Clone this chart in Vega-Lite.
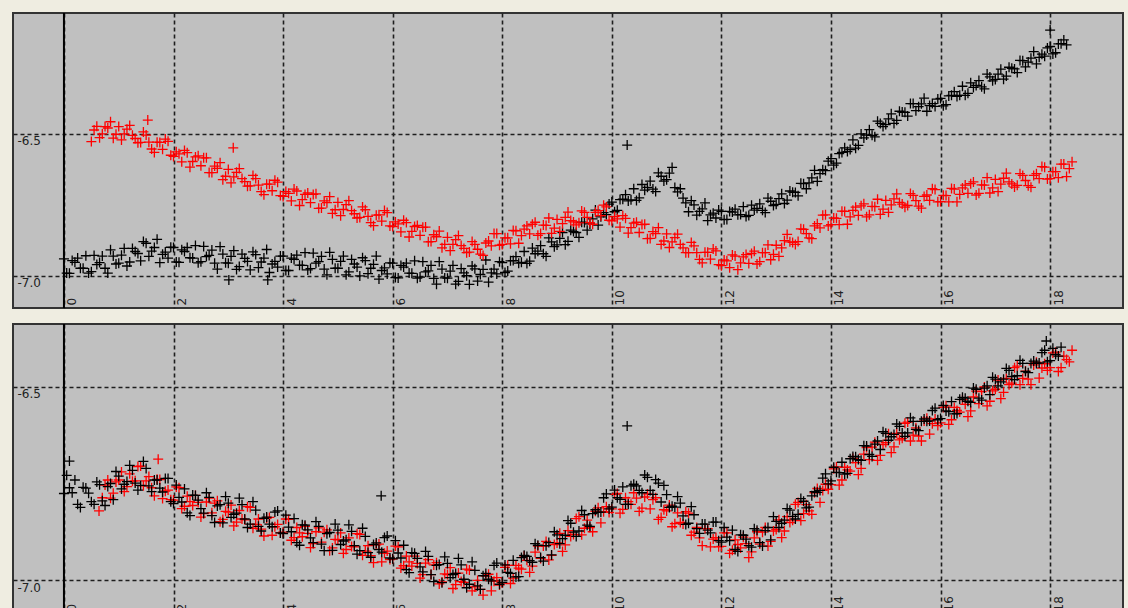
{
"$schema": "https://vega.github.io/schema/vega-lite/v6.json",
"background": "#EFEDE1",
"padding": {"left": 12, "top": 11, "right": 6, "bottom": 0},
"spacing": 12,
"config": {
 "view": {"fill": "#C0C0C0", "stroke": "#333333", "strokeWidth": 2},
 "axis": {"grid": true, "gridDash": [4, 3], "gridColor": "#1e1e1e", "gridWidth": 1.6, "gridOpacity": 1, "domain": false, "ticks": false, "tickSize": 0, "title": null, "labelFont": "DejaVu Sans", "labelFontSize": 12, "labelColor": "#222222", "labelFlush": false, "labelOverlap": false}
},
"datasets": {
 "topBlack": [
{"x":0.0,"y":-6.940},{"x":0.1,"y":-6.991},{"x":0.2,"y":-6.952},{"x":0.3,"y":-6.973},{"x":0.4,"y":-6.929},{"x":0.5,"y":-6.985},{"x":0.6,"y":-6.960},{"x":0.7,"y":-6.930},{"x":0.8,"y":-6.990},{"x":0.9,"y":-6.930},
{"x":1.0,"y":-6.955},{"x":1.1,"y":-6.903},{"x":1.2,"y":-6.951},{"x":1.3,"y":-6.914},{"x":1.4,"y":-6.947},{"x":1.5,"y":-6.885},{"x":1.6,"y":-6.913},{"x":1.7,"y":-6.871},{"x":1.8,"y":-6.924},{"x":1.9,"y":-6.937},
{"x":2.0,"y":-6.900},{"x":2.1,"y":-6.952},{"x":2.2,"y":-6.914},{"x":2.3,"y":-6.936},{"x":2.4,"y":-6.893},{"x":2.5,"y":-6.950},{"x":2.6,"y":-6.932},{"x":2.7,"y":-6.909},{"x":2.8,"y":-6.976},{"x":2.9,"y":-6.923},
{"x":3.0,"y":-6.955},{"x":3.1,"y":-6.911},{"x":3.2,"y":-6.967},{"x":3.3,"y":-6.938},{"x":3.4,"y":-6.979},{"x":3.5,"y":-6.925},{"x":3.6,"y":-6.951},{"x":3.7,"y":-6.907},{"x":3.8,"y":-6.958},{"x":3.9,"y":-6.969},
{"x":4.0,"y":-6.930},{"x":4.1,"y":-6.981},{"x":4.2,"y":-6.942},{"x":4.3,"y":-6.962},{"x":4.4,"y":-6.918},{"x":4.5,"y":-6.974},{"x":4.6,"y":-6.955},{"x":4.7,"y":-6.931},{"x":4.8,"y":-6.996},{"x":4.9,"y":-6.942},
{"x":5.0,"y":-6.973},{"x":5.1,"y":-6.930},{"x":5.2,"y":-6.986},{"x":5.3,"y":-6.958},{"x":5.4,"y":-7.000},{"x":5.5,"y":-6.946},{"x":5.6,"y":-6.973},{"x":5.7,"y":-6.930},{"x":5.8,"y":-6.981},{"x":5.9,"y":-6.993},
{"x":6.0,"y":-6.955},{"x":6.1,"y":-7.007},{"x":6.2,"y":-6.969},{"x":6.3,"y":-6.990},{"x":6.4,"y":-6.947},{"x":6.5,"y":-7.004},{"x":6.6,"y":-6.986},{"x":6.7,"y":-6.963},{"x":6.8,"y":-7.029},{"x":6.9,"y":-6.976},
{"x":7.0,"y":-7.008},{"x":7.1,"y":-6.963},{"x":7.2,"y":-7.019},{"x":7.3,"y":-6.989},{"x":7.4,"y":-7.030},{"x":7.5,"y":-6.975},{"x":7.6,"y":-6.995},{"x":7.7,"y":-6.944},{"x":7.8,"y":-6.989},{"x":7.9,"y":-6.993},
{"x":8.0,"y":-6.953},{"x":8.1,"y":-6.983},{"x":8.2,"y":-6.946},{"x":8.3,"y":-6.955},{"x":8.4,"y":-6.914},{"x":8.5,"y":-6.948},{"x":8.6,"y":-6.922},{"x":8.7,"y":-6.893},{"x":8.8,"y":-6.931},{"x":8.9,"y":-6.880},
{"x":9.0,"y":-6.891},{"x":9.1,"y":-6.847},{"x":9.2,"y":-6.878},{"x":9.3,"y":-6.844},{"x":9.4,"y":-6.864},{"x":9.5,"y":-6.812},{"x":9.6,"y":-6.817},{"x":9.7,"y":-6.768},{"x":9.8,"y":-6.792},{"x":9.9,"y":-6.784},
{"x":10.0,"y":-6.740},{"x":10.1,"y":-6.769},{"x":10.2,"y":-6.730},{"x":10.3,"y":-6.736},{"x":10.4,"y":-6.693},{"x":10.5,"y":-6.725},{"x":10.6,"y":-6.698},{"x":10.7,"y":-6.666},{"x":10.8,"y":-6.703},{"x":10.9,"y":-6.649},
{"x":11.0,"y":-6.661},{"x":11.1,"y":-6.618},{"x":11.2,"y":-6.704},{"x":11.3,"y":-6.726},{"x":11.4,"y":-6.774},{"x":11.5,"y":-6.750},{"x":11.6,"y":-6.773},{"x":11.7,"y":-6.743},{"x":11.8,"y":-6.785},{"x":11.9,"y":-6.796},
{"x":12.0,"y":-6.773},{"x":12.1,"y":-6.801},{"x":12.2,"y":-6.775},{"x":12.3,"y":-6.785},{"x":12.4,"y":-6.756},{"x":12.5,"y":-6.787},{"x":12.6,"y":-6.768},{"x":12.7,"y":-6.746},{"x":12.8,"y":-6.777},{"x":12.9,"y":-6.737},
{"x":13.0,"y":-6.748},{"x":13.1,"y":-6.711},{"x":13.2,"y":-6.733},{"x":13.3,"y":-6.705},{"x":13.4,"y":-6.718},{"x":13.5,"y":-6.675},{"x":13.6,"y":-6.672},{"x":13.7,"y":-6.628},{"x":13.8,"y":-6.640},{"x":13.9,"y":-6.629},
{"x":14.0,"y":-6.587},{"x":14.1,"y":-6.603},{"x":14.2,"y":-6.565},{"x":14.3,"y":-6.562},{"x":14.4,"y":-6.521},{"x":14.5,"y":-6.540},{"x":14.6,"y":-6.514},{"x":14.7,"y":-6.485},{"x":14.8,"y":-6.510},{"x":14.9,"y":-6.463},
{"x":15.0,"y":-6.467},{"x":15.1,"y":-6.429},{"x":15.2,"y":-6.452},{"x":15.3,"y":-6.423},{"x":15.4,"y":-6.437},{"x":15.5,"y":-6.393},{"x":15.6,"y":-6.404},{"x":15.7,"y":-6.374},{"x":15.8,"y":-6.400},{"x":15.9,"y":-6.403},
{"x":16.0,"y":-6.375},{"x":16.1,"y":-6.397},{"x":16.2,"y":-6.364},{"x":16.3,"y":-6.368},{"x":16.4,"y":-6.332},{"x":16.5,"y":-6.357},{"x":16.6,"y":-6.336},{"x":16.7,"y":-6.312},{"x":16.8,"y":-6.341},{"x":16.9,"y":-6.299},
{"x":17.0,"y":-6.308},{"x":17.1,"y":-6.272},{"x":17.2,"y":-6.296},{"x":17.3,"y":-6.269},{"x":17.4,"y":-6.284},{"x":17.5,"y":-6.242},{"x":17.6,"y":-6.247},{"x":17.7,"y":-6.210},{"x":17.8,"y":-6.230},{"x":17.9,"y":-6.226},
{"x":18.0,"y":-6.192},{"x":18.1,"y":-6.214},{"x":18.2,"y":-6.182},{"x":18.3,"y":-6.186},
{"x":18.0,"y":-6.134},{"x":10.28,"y":-6.539},{"x":3.01,"y":-7.014},{"x":3.72,"y":-7.014},
{"x":0.05,"y":-6.990},{"x":0.15,"y":-6.946},{"x":0.25,"y":-6.937},{"x":0.35,"y":-6.973},{"x":0.45,"y":-6.990},{"x":0.55,"y":-6.928},{"x":0.65,"y":-6.953},{"x":0.75,"y":-6.973},{"x":0.85,"y":-6.908},{"x":0.95,"y":-6.958},
{"x":1.05,"y":-6.927},{"x":1.15,"y":-6.965},{"x":1.25,"y":-6.903},{"x":1.35,"y":-6.921},{"x":1.45,"y":-6.879},{"x":1.55,"y":-6.931},{"x":1.65,"y":-6.900},{"x":1.75,"y":-6.953},{"x":1.85,"y":-6.916},{"x":1.95,"y":-6.899},
{"x":2.05,"y":-6.951},{"x":2.15,"y":-6.908},{"x":2.25,"y":-6.900},{"x":2.35,"y":-6.937},{"x":2.45,"y":-6.954},{"x":2.55,"y":-6.896},{"x":2.65,"y":-6.928},{"x":2.75,"y":-6.955},{"x":2.85,"y":-6.897},{"x":2.95,"y":-6.954},
{"x":3.05,"y":-6.931},{"x":3.15,"y":-6.977},{"x":3.25,"y":-6.923},{"x":3.35,"y":-6.949},{"x":3.45,"y":-6.915},{"x":3.55,"y":-6.971},{"x":3.65,"y":-6.937},{"x":3.75,"y":-6.988},{"x":3.85,"y":-6.949},{"x":3.95,"y":-6.930},
{"x":4.05,"y":-6.981},{"x":4.15,"y":-6.937},{"x":4.25,"y":-6.927},{"x":4.35,"y":-6.963},{"x":4.45,"y":-6.979},{"x":4.55,"y":-6.920},{"x":4.65,"y":-6.950},{"x":4.75,"y":-6.976},{"x":4.85,"y":-6.917},{"x":4.95,"y":-6.973},
{"x":5.05,"y":-6.949},{"x":5.15,"y":-6.996},{"x":5.25,"y":-6.942},{"x":5.35,"y":-6.969},{"x":5.45,"y":-6.936},{"x":5.55,"y":-6.992},{"x":5.65,"y":-6.959},{"x":5.75,"y":-7.011},{"x":5.85,"y":-6.972},{"x":5.95,"y":-6.954},
{"x":6.05,"y":-7.006},{"x":6.15,"y":-6.963},{"x":6.25,"y":-6.955},{"x":6.35,"y":-6.991},{"x":6.45,"y":-7.008},{"x":6.55,"y":-6.950},{"x":6.65,"y":-6.982},{"x":6.75,"y":-7.009},{"x":6.85,"y":-6.950},{"x":6.95,"y":-7.007},
{"x":7.05,"y":-6.983},{"x":7.15,"y":-7.029},{"x":7.25,"y":-6.974},{"x":7.35,"y":-6.999},{"x":7.45,"y":-6.965},{"x":7.55,"y":-7.018},{"x":7.65,"y":-6.977},{"x":7.75,"y":-7.022},{"x":7.85,"y":-6.976},{"x":7.95,"y":-6.950},
{"x":8.05,"y":-6.988},{"x":8.15,"y":-6.947},{"x":8.25,"y":-6.932},{"x":8.35,"y":-6.952},{"x":8.45,"y":-6.956},{"x":8.55,"y":-6.902},{"x":8.65,"y":-6.913},{"x":8.75,"y":-6.922},{"x":8.85,"y":-6.866},{"x":8.95,"y":-6.897},
{"x":9.05,"y":-6.868},{"x":9.15,"y":-6.890},{"x":9.25,"y":-6.839},{"x":9.35,"y":-6.847},{"x":9.45,"y":-6.811},{"x":9.55,"y":-6.839},{"x":9.65,"y":-6.799},{"x":9.75,"y":-6.821},{"x":9.85,"y":-6.777},{"x":9.95,"y":-6.747},
{"x":10.05,"y":-6.774},{"x":10.15,"y":-6.731},{"x":10.25,"y":-6.714},{"x":10.35,"y":-6.732},{"x":10.45,"y":-6.734},{"x":10.55,"y":-6.678},{"x":10.65,"y":-6.688},{"x":10.75,"y":-6.694},{"x":10.85,"y":-6.637},{"x":10.95,"y":-6.666},
{"x":11.05,"y":-6.638},{"x":11.15,"y":-6.689},{"x":11.25,"y":-6.693},{"x":11.35,"y":-6.743},{"x":11.45,"y":-6.735},{"x":11.55,"y":-6.786},{"x":11.65,"y":-6.764},{"x":11.75,"y":-6.805},{"x":11.85,"y":-6.779},{"x":11.95,"y":-6.768},
{"x":12.05,"y":-6.802},{"x":12.15,"y":-6.773},{"x":12.25,"y":-6.765},{"x":12.35,"y":-6.784},{"x":12.45,"y":-6.791},{"x":12.55,"y":-6.751},{"x":12.65,"y":-6.762},{"x":12.75,"y":-6.769},{"x":12.85,"y":-6.726},{"x":12.95,"y":-6.752},
{"x":13.05,"y":-6.728},{"x":13.15,"y":-6.745},{"x":13.25,"y":-6.701},{"x":13.35,"y":-6.706},{"x":13.45,"y":-6.674},{"x":13.55,"y":-6.693},{"x":13.65,"y":-6.655},{"x":13.75,"y":-6.667},{"x":13.85,"y":-6.626},{"x":13.95,"y":-6.596},
{"x":14.05,"y":-6.610},{"x":14.15,"y":-6.569},{"x":14.25,"y":-6.549},{"x":14.35,"y":-6.555},{"x":14.45,"y":-6.550},{"x":14.55,"y":-6.500},{"x":14.65,"y":-6.504},{"x":14.75,"y":-6.505},{"x":14.85,"y":-6.455},{"x":14.95,"y":-6.474},
{"x":15.05,"y":-6.447},{"x":15.15,"y":-6.463},{"x":15.25,"y":-6.420},{"x":15.35,"y":-6.424},{"x":15.45,"y":-6.393},{"x":15.55,"y":-6.418},{"x":15.65,"y":-6.394},{"x":15.75,"y":-6.420},{"x":15.85,"y":-6.393},{"x":15.95,"y":-6.377},
{"x":16.05,"y":-6.401},{"x":16.15,"y":-6.366},{"x":16.25,"y":-6.351},{"x":16.35,"y":-6.364},{"x":16.45,"y":-6.364},{"x":16.55,"y":-6.320},{"x":16.65,"y":-6.329},{"x":16.75,"y":-6.334},{"x":16.85,"y":-6.289},{"x":16.95,"y":-6.313},
{"x":17.05,"y":-6.289},{"x":17.15,"y":-6.307},{"x":17.25,"y":-6.265},{"x":17.35,"y":-6.271},{"x":17.45,"y":-6.241},{"x":17.55,"y":-6.264},{"x":17.65,"y":-6.233},{"x":17.75,"y":-6.253},{"x":17.85,"y":-6.219},{"x":17.95,"y":-6.197},
{"x":18.05,"y":-6.218},{"x":18.15,"y":-6.183},{"x":18.25,"y":-6.169}
 ],
 "topRed": [
{"x":0.5,"y":-6.527},{"x":0.6,"y":-6.473},{"x":0.7,"y":-6.500},{"x":0.8,"y":-6.479},{"x":0.9,"y":-6.515},
{"x":1.0,"y":-6.474},{"x":1.1,"y":-6.500},{"x":1.2,"y":-6.470},{"x":1.3,"y":-6.516},{"x":1.4,"y":-6.530},{"x":1.5,"y":-6.504},{"x":1.6,"y":-6.553},{"x":1.7,"y":-6.529},{"x":1.8,"y":-6.554},{"x":1.9,"y":-6.526},
{"x":2.0,"y":-6.579},{"x":2.1,"y":-6.570},{"x":2.2,"y":-6.558},{"x":2.3,"y":-6.617},{"x":2.4,"y":-6.581},{"x":2.5,"y":-6.612},{"x":2.6,"y":-6.584},{"x":2.7,"y":-6.636},{"x":2.8,"y":-6.621},{"x":2.9,"y":-6.661},
{"x":3.0,"y":-6.625},{"x":3.1,"y":-6.651},{"x":3.2,"y":-6.622},{"x":3.3,"y":-6.668},{"x":3.4,"y":-6.683},{"x":3.5,"y":-6.657},{"x":3.6,"y":-6.703},{"x":3.7,"y":-6.677},{"x":3.8,"y":-6.700},{"x":3.9,"y":-6.670},
{"x":4.0,"y":-6.720},{"x":4.1,"y":-6.709},{"x":4.2,"y":-6.694},{"x":4.3,"y":-6.752},{"x":4.4,"y":-6.713},{"x":4.5,"y":-6.742},{"x":4.6,"y":-6.711},{"x":4.7,"y":-6.761},{"x":4.8,"y":-6.742},{"x":4.9,"y":-6.780},
{"x":5.0,"y":-6.741},{"x":5.1,"y":-6.766},{"x":5.2,"y":-6.735},{"x":5.3,"y":-6.781},{"x":5.4,"y":-6.794},{"x":5.5,"y":-6.767},{"x":5.6,"y":-6.812},{"x":5.7,"y":-6.786},{"x":5.8,"y":-6.807},{"x":5.9,"y":-6.777},
{"x":6.0,"y":-6.826},{"x":6.1,"y":-6.817},{"x":6.2,"y":-6.804},{"x":6.3,"y":-6.863},{"x":6.4,"y":-6.826},{"x":6.5,"y":-6.857},{"x":6.6,"y":-6.828},{"x":6.7,"y":-6.879},{"x":6.8,"y":-6.862},{"x":6.9,"y":-6.901},
{"x":7.0,"y":-6.864},{"x":7.1,"y":-6.889},{"x":7.2,"y":-6.858},{"x":7.3,"y":-6.903},{"x":7.4,"y":-6.916},{"x":7.5,"y":-6.889},{"x":7.6,"y":-6.923},{"x":7.7,"y":-6.884},{"x":7.8,"y":-6.894},{"x":7.9,"y":-6.851},
{"x":8.0,"y":-6.889},{"x":8.1,"y":-6.866},{"x":8.2,"y":-6.840},{"x":8.3,"y":-6.885},{"x":8.4,"y":-6.835},{"x":8.5,"y":-6.852},{"x":8.6,"y":-6.811},{"x":8.7,"y":-6.851},{"x":8.8,"y":-6.822},{"x":8.9,"y":-6.850},
{"x":9.0,"y":-6.801},{"x":9.1,"y":-6.816},{"x":9.2,"y":-6.775},{"x":9.3,"y":-6.810},{"x":9.4,"y":-6.813},{"x":9.5,"y":-6.776},{"x":9.6,"y":-6.812},{"x":9.7,"y":-6.776},{"x":9.8,"y":-6.788},{"x":9.9,"y":-6.757},
{"x":10.0,"y":-6.806},{"x":10.1,"y":-6.799},{"x":10.2,"y":-6.788},{"x":10.3,"y":-6.849},{"x":10.4,"y":-6.814},{"x":10.5,"y":-6.847},{"x":10.6,"y":-6.818},{"x":10.7,"y":-6.868},{"x":10.8,"y":-6.851},{"x":10.9,"y":-6.889},
{"x":11.0,"y":-6.852},{"x":11.1,"y":-6.880},{"x":11.2,"y":-6.853},{"x":11.3,"y":-6.901},{"x":11.4,"y":-6.918},{"x":11.5,"y":-6.894},{"x":11.6,"y":-6.942},{"x":11.7,"y":-6.917},{"x":11.8,"y":-6.941},{"x":11.9,"y":-6.912},
{"x":12.0,"y":-6.964},{"x":12.1,"y":-6.947},{"x":12.2,"y":-6.926},{"x":12.3,"y":-6.978},{"x":12.4,"y":-6.933},{"x":12.5,"y":-6.956},{"x":12.6,"y":-6.913},{"x":12.7,"y":-6.950},{"x":12.8,"y":-6.918},{"x":12.9,"y":-6.943},
{"x":13.0,"y":-6.892},{"x":13.1,"y":-6.901},{"x":13.2,"y":-6.854},{"x":13.3,"y":-6.882},{"x":13.4,"y":-6.879},{"x":13.5,"y":-6.836},{"x":13.6,"y":-6.866},{"x":13.7,"y":-6.824},{"x":13.8,"y":-6.831},{"x":13.9,"y":-6.785},
{"x":14.0,"y":-6.819},{"x":14.1,"y":-6.797},{"x":14.2,"y":-6.772},{"x":14.3,"y":-6.818},{"x":14.4,"y":-6.769},{"x":14.5,"y":-6.787},{"x":14.6,"y":-6.746},{"x":14.7,"y":-6.785},{"x":14.8,"y":-6.756},{"x":14.9,"y":-6.783},
{"x":15.0,"y":-6.734},{"x":15.1,"y":-6.750},{"x":15.2,"y":-6.711},{"x":15.3,"y":-6.747},{"x":15.4,"y":-6.752},{"x":15.5,"y":-6.716},{"x":15.6,"y":-6.754},{"x":15.7,"y":-6.720},{"x":15.8,"y":-6.734},{"x":15.9,"y":-6.696},
{"x":16.0,"y":-6.738},{"x":16.1,"y":-6.717},{"x":16.2,"y":-6.692},{"x":16.3,"y":-6.739},{"x":16.4,"y":-6.690},{"x":16.5,"y":-6.709},{"x":16.6,"y":-6.669},{"x":16.7,"y":-6.709},{"x":16.8,"y":-6.680},{"x":16.9,"y":-6.708},
{"x":17.0,"y":-6.660},{"x":17.1,"y":-6.677},{"x":17.2,"y":-6.638},{"x":17.3,"y":-6.676},{"x":17.4,"y":-6.681},{"x":17.5,"y":-6.646},{"x":17.6,"y":-6.682},{"x":17.7,"y":-6.646},{"x":17.8,"y":-6.657},{"x":17.9,"y":-6.617},
{"x":18.0,"y":-6.657},{"x":18.1,"y":-6.633},{"x":18.2,"y":-6.606},{"x":18.3,"y":-6.650},{"x":18.4,"y":-6.598},
{"x":3.09,"y":-6.549},{"x":1.53,"y":-6.451},
{"x":0.55,"y":-6.486},{"x":0.65,"y":-6.513},{"x":0.75,"y":-6.474},{"x":0.85,"y":-6.457},{"x":0.95,"y":-6.501},
{"x":1.05,"y":-6.521},{"x":1.15,"y":-6.483},{"x":1.25,"y":-6.505},{"x":1.35,"y":-6.531},{"x":1.45,"y":-6.493},{"x":1.55,"y":-6.529},{"x":1.65,"y":-6.565},{"x":1.75,"y":-6.530},{"x":1.85,"y":-6.518},{"x":1.95,"y":-6.575},
{"x":2.05,"y":-6.563},{"x":2.15,"y":-6.598},{"x":2.25,"y":-6.566},{"x":2.35,"y":-6.597},{"x":2.45,"y":-6.577},{"x":2.55,"y":-6.584},{"x":2.65,"y":-6.636},{"x":2.75,"y":-6.613},{"x":2.85,"y":-6.601},{"x":2.95,"y":-6.649},
{"x":3.05,"y":-6.672},{"x":3.15,"y":-6.635},{"x":3.25,"y":-6.657},{"x":3.35,"y":-6.684},{"x":3.45,"y":-6.646},{"x":3.55,"y":-6.680},{"x":3.65,"y":-6.714},{"x":3.75,"y":-6.677},{"x":3.85,"y":-6.663},{"x":3.95,"y":-6.717},
{"x":4.05,"y":-6.703},{"x":4.15,"y":-6.736},{"x":4.25,"y":-6.701},{"x":4.35,"y":-6.731},{"x":4.45,"y":-6.708},{"x":4.55,"y":-6.713},{"x":4.65,"y":-6.762},{"x":4.75,"y":-6.736},{"x":4.85,"y":-6.721},{"x":4.95,"y":-6.767},
{"x":5.05,"y":-6.788},{"x":5.15,"y":-6.749},{"x":5.25,"y":-6.770},{"x":5.35,"y":-6.796},{"x":5.45,"y":-6.757},{"x":5.55,"y":-6.790},{"x":5.65,"y":-6.823},{"x":5.75,"y":-6.785},{"x":5.85,"y":-6.770},{"x":5.95,"y":-6.824},
{"x":6.05,"y":-6.810},{"x":6.15,"y":-6.845},{"x":6.25,"y":-6.812},{"x":6.35,"y":-6.843},{"x":6.45,"y":-6.822},{"x":6.55,"y":-6.829},{"x":6.65,"y":-6.880},{"x":6.75,"y":-6.855},{"x":6.85,"y":-6.842},{"x":6.95,"y":-6.889},
{"x":7.05,"y":-6.911},{"x":7.15,"y":-6.872},{"x":7.25,"y":-6.893},{"x":7.35,"y":-6.918},{"x":7.45,"y":-6.879},{"x":7.55,"y":-6.906},{"x":7.65,"y":-6.928},{"x":7.75,"y":-6.877},{"x":7.85,"y":-6.851},{"x":7.95,"y":-6.892},
{"x":8.05,"y":-6.866},{"x":8.15,"y":-6.887},{"x":8.25,"y":-6.841},{"x":8.35,"y":-6.858},{"x":8.45,"y":-6.824},{"x":8.55,"y":-6.818},{"x":8.65,"y":-6.857},{"x":8.75,"y":-6.821},{"x":8.85,"y":-6.796},{"x":8.95,"y":-6.832},
{"x":9.05,"y":-6.843},{"x":9.15,"y":-6.794},{"x":9.25,"y":-6.805},{"x":9.35,"y":-6.820},{"x":9.45,"y":-6.771},{"x":9.55,"y":-6.794},{"x":9.65,"y":-6.818},{"x":9.75,"y":-6.770},{"x":9.85,"y":-6.751},{"x":9.95,"y":-6.804},
{"x":10.05,"y":-6.791},{"x":10.15,"y":-6.828},{"x":10.25,"y":-6.797},{"x":10.35,"y":-6.830},{"x":10.45,"y":-6.811},{"x":10.55,"y":-6.819},{"x":10.65,"y":-6.869},{"x":10.75,"y":-6.844},{"x":10.85,"y":-6.830},{"x":10.95,"y":-6.877},
{"x":11.05,"y":-6.900},{"x":11.15,"y":-6.865},{"x":11.25,"y":-6.889},{"x":11.35,"y":-6.918},{"x":11.45,"y":-6.882},{"x":11.55,"y":-6.918},{"x":11.65,"y":-6.954},{"x":11.75,"y":-6.917},{"x":11.85,"y":-6.905},{"x":11.95,"y":-6.960},
{"x":12.05,"y":-6.944},{"x":12.15,"y":-6.971},{"x":12.25,"y":-6.930},{"x":12.35,"y":-6.954},{"x":12.45,"y":-6.925},{"x":12.55,"y":-6.921},{"x":12.65,"y":-6.958},{"x":12.75,"y":-6.918},{"x":12.85,"y":-6.891},{"x":12.95,"y":-6.924},
{"x":13.05,"y":-6.931},{"x":13.15,"y":-6.876},{"x":13.25,"y":-6.880},{"x":13.35,"y":-6.889},{"x":13.45,"y":-6.834},{"x":13.55,"y":-6.851},{"x":13.65,"y":-6.869},{"x":13.75,"y":-6.816},{"x":13.85,"y":-6.786},{"x":13.95,"y":-6.824},
{"x":14.05,"y":-6.796},{"x":14.15,"y":-6.819},{"x":14.25,"y":-6.773},{"x":14.35,"y":-6.792},{"x":14.45,"y":-6.758},{"x":14.55,"y":-6.753},{"x":14.65,"y":-6.792},{"x":14.75,"y":-6.755},{"x":14.85,"y":-6.730},{"x":14.95,"y":-6.765},
{"x":15.05,"y":-6.776},{"x":15.15,"y":-6.729},{"x":15.25,"y":-6.741},{"x":15.35,"y":-6.758},{"x":15.45,"y":-6.710},{"x":15.55,"y":-6.735},{"x":15.65,"y":-6.761},{"x":15.75,"y":-6.715},{"x":15.85,"y":-6.693},{"x":15.95,"y":-6.739},
{"x":16.05,"y":-6.716},{"x":16.15,"y":-6.739},{"x":16.25,"y":-6.694},{"x":16.35,"y":-6.713},{"x":16.45,"y":-6.680},{"x":16.55,"y":-6.675},{"x":16.65,"y":-6.715},{"x":16.75,"y":-6.679},{"x":16.85,"y":-6.654},{"x":16.95,"y":-6.690},
{"x":17.05,"y":-6.703},{"x":17.15,"y":-6.656},{"x":17.25,"y":-6.669},{"x":17.35,"y":-6.687},{"x":17.45,"y":-6.640},{"x":17.55,"y":-6.664},{"x":17.65,"y":-6.688},{"x":17.75,"y":-6.640},{"x":17.85,"y":-6.615},{"x":17.95,"y":-6.659},
{"x":18.05,"y":-6.633},{"x":18.15,"y":-6.654},{"x":18.25,"y":-6.606},{"x":18.35,"y":-6.622}
 ],
 "botBlack": [
{"x":0.0,"y":-6.776},{"x":0.1,"y":-6.761},{"x":0.2,"y":-6.741},{"x":0.3,"y":-6.812},{"x":0.4,"y":-6.762},{"x":0.5,"y":-6.797},{"x":0.6,"y":-6.746},{"x":0.7,"y":-6.795},{"x":0.8,"y":-6.758},{"x":0.9,"y":-6.792},
{"x":1.0,"y":-6.731},{"x":1.1,"y":-6.752},{"x":1.2,"y":-6.703},{"x":1.3,"y":-6.749},{"x":1.4,"y":-6.755},{"x":1.5,"y":-6.711},{"x":1.6,"y":-6.771},{"x":1.7,"y":-6.741},{"x":1.8,"y":-6.772},{"x":1.9,"y":-6.737},
{"x":2.0,"y":-6.802},{"x":2.1,"y":-6.786},{"x":2.2,"y":-6.764},{"x":2.3,"y":-6.833},{"x":2.4,"y":-6.781},{"x":2.5,"y":-6.815},{"x":2.6,"y":-6.774},{"x":2.7,"y":-6.833},{"x":2.8,"y":-6.808},{"x":2.9,"y":-6.852},
{"x":3.0,"y":-6.801},{"x":3.1,"y":-6.830},{"x":3.2,"y":-6.788},{"x":3.3,"y":-6.842},{"x":3.4,"y":-6.855},{"x":3.5,"y":-6.819},{"x":3.6,"y":-6.873},{"x":3.7,"y":-6.837},{"x":3.8,"y":-6.862},{"x":3.9,"y":-6.821},
{"x":4.0,"y":-6.880},{"x":4.1,"y":-6.863},{"x":4.2,"y":-6.841},{"x":4.3,"y":-6.910},{"x":4.4,"y":-6.858},{"x":4.5,"y":-6.891},{"x":4.6,"y":-6.849},{"x":4.7,"y":-6.907},{"x":4.8,"y":-6.880},{"x":4.9,"y":-6.923},
{"x":5.0,"y":-6.871},{"x":5.1,"y":-6.899},{"x":5.2,"y":-6.857},{"x":5.3,"y":-6.911},{"x":5.4,"y":-6.924},{"x":5.5,"y":-6.887},{"x":5.6,"y":-6.941},{"x":5.7,"y":-6.904},{"x":5.8,"y":-6.928},{"x":5.9,"y":-6.886},
{"x":6.0,"y":-6.945},{"x":6.1,"y":-6.930},{"x":6.2,"y":-6.910},{"x":6.3,"y":-6.981},{"x":6.4,"y":-6.931},{"x":6.5,"y":-6.966},{"x":6.6,"y":-6.926},{"x":6.7,"y":-6.986},{"x":6.8,"y":-6.962},{"x":6.9,"y":-7.007},
{"x":7.0,"y":-6.957},{"x":7.1,"y":-6.986},{"x":7.2,"y":-6.944},{"x":7.3,"y":-6.998},{"x":7.4,"y":-7.011},{"x":7.5,"y":-6.975},{"x":7.6,"y":-7.024},{"x":7.7,"y":-6.983},{"x":7.8,"y":-7.002},{"x":7.9,"y":-6.956},
{"x":8.0,"y":-7.006},{"x":8.1,"y":-6.980},{"x":8.2,"y":-6.949},{"x":8.3,"y":-6.991},{"x":8.4,"y":-6.936},{"x":8.5,"y":-6.950},{"x":8.6,"y":-6.906},{"x":8.7,"y":-6.942},{"x":8.8,"y":-6.911},{"x":8.9,"y":-6.935},
{"x":9.0,"y":-6.883},{"x":9.1,"y":-6.893},{"x":9.2,"y":-6.846},{"x":9.3,"y":-6.876},{"x":9.4,"y":-6.873},{"x":9.5,"y":-6.831},{"x":9.6,"y":-6.861},{"x":9.7,"y":-6.818},{"x":9.8,"y":-6.824},{"x":9.9,"y":-6.777},
{"x":10.0,"y":-6.811},{"x":10.1,"y":-6.787},{"x":10.2,"y":-6.759},{"x":10.3,"y":-6.804},{"x":10.4,"y":-6.752},{"x":10.5,"y":-6.768},{"x":10.6,"y":-6.728},{"x":10.7,"y":-6.768},{"x":10.8,"y":-6.740},{"x":10.9,"y":-6.798},
{"x":11.0,"y":-6.779},{"x":11.1,"y":-6.809},{"x":11.2,"y":-6.784},{"x":11.3,"y":-6.834},{"x":11.4,"y":-6.853},{"x":11.5,"y":-6.831},{"x":11.6,"y":-6.879},{"x":11.7,"y":-6.855},{"x":11.8,"y":-6.878},{"x":11.9,"y":-6.850},
{"x":12.0,"y":-6.902},{"x":12.1,"y":-6.889},{"x":12.2,"y":-6.871},{"x":12.3,"y":-6.926},{"x":12.4,"y":-6.884},{"x":12.5,"y":-6.911},{"x":12.6,"y":-6.867},{"x":12.7,"y":-6.903},{"x":12.8,"y":-6.872},{"x":12.9,"y":-6.896},
{"x":13.0,"y":-6.848},{"x":13.1,"y":-6.853},{"x":13.2,"y":-6.815},{"x":13.3,"y":-6.835},{"x":13.4,"y":-6.830},{"x":13.5,"y":-6.796},{"x":13.6,"y":-6.811},{"x":13.7,"y":-6.771},{"x":13.8,"y":-6.768},{"x":13.9,"y":-6.725},
{"x":14.0,"y":-6.743},{"x":14.1,"y":-6.721},{"x":14.2,"y":-6.695},{"x":14.3,"y":-6.724},{"x":14.4,"y":-6.680},{"x":14.5,"y":-6.688},{"x":14.6,"y":-6.652},{"x":14.7,"y":-6.675},{"x":14.8,"y":-6.648},{"x":14.9,"y":-6.662},
{"x":15.0,"y":-6.620},{"x":15.1,"y":-6.629},{"x":15.2,"y":-6.596},{"x":15.3,"y":-6.619},{"x":15.4,"y":-6.619},{"x":15.5,"y":-6.589},{"x":15.6,"y":-6.613},{"x":15.7,"y":-6.583},{"x":15.8,"y":-6.588},{"x":15.9,"y":-6.555},
{"x":16.0,"y":-6.582},{"x":16.1,"y":-6.562},{"x":16.2,"y":-6.538},{"x":16.3,"y":-6.569},{"x":16.4,"y":-6.527},{"x":16.5,"y":-6.537},{"x":16.6,"y":-6.503},{"x":16.7,"y":-6.529},{"x":16.8,"y":-6.503},{"x":16.9,"y":-6.520},
{"x":17.0,"y":-6.480},{"x":17.1,"y":-6.487},{"x":17.2,"y":-6.452},{"x":17.3,"y":-6.473},{"x":17.4,"y":-6.471},{"x":17.5,"y":-6.439},{"x":17.6,"y":-6.463},{"x":17.7,"y":-6.433},{"x":17.8,"y":-6.438},{"x":17.9,"y":-6.405},
{"x":18.0,"y":-6.432},{"x":18.1,"y":-6.416},{"x":18.2,"y":-6.397},
{"x":10.28,"y":-6.601},{"x":5.79,"y":-6.782},{"x":17.93,"y":-6.381},{"x":0.1,"y":-6.692},
{"x":0.05,"y":-6.729},{"x":0.15,"y":-6.774},{"x":0.25,"y":-6.804},{"x":0.35,"y":-6.760},{"x":0.45,"y":-6.775},{"x":0.55,"y":-6.804},{"x":0.65,"y":-6.753},{"x":0.75,"y":-6.807},{"x":0.85,"y":-6.750},{"x":0.95,"y":-6.719},
{"x":1.05,"y":-6.764},{"x":1.15,"y":-6.745},{"x":1.25,"y":-6.716},{"x":1.35,"y":-6.767},{"x":1.45,"y":-6.693},{"x":1.55,"y":-6.756},{"x":1.65,"y":-6.741},{"x":1.75,"y":-6.762},{"x":1.85,"y":-6.737},{"x":1.95,"y":-6.797},
{"x":2.05,"y":-6.754},{"x":2.15,"y":-6.798},{"x":2.25,"y":-6.826},{"x":2.35,"y":-6.780},{"x":2.45,"y":-6.793},{"x":2.55,"y":-6.827},{"x":2.65,"y":-6.786},{"x":2.75,"y":-6.851},{"x":2.85,"y":-6.805},{"x":2.95,"y":-6.784},
{"x":3.05,"y":-6.838},{"x":3.15,"y":-6.827},{"x":3.25,"y":-6.805},{"x":3.35,"y":-6.864},{"x":3.45,"y":-6.797},{"x":3.55,"y":-6.861},{"x":3.65,"y":-6.840},{"x":3.75,"y":-6.855},{"x":3.85,"y":-6.824},{"x":3.95,"y":-6.878},
{"x":4.05,"y":-6.832},{"x":4.15,"y":-6.875},{"x":4.25,"y":-6.903},{"x":4.35,"y":-6.857},{"x":4.45,"y":-6.870},{"x":4.55,"y":-6.903},{"x":4.65,"y":-6.861},{"x":4.75,"y":-6.924},{"x":4.85,"y":-6.877},{"x":4.95,"y":-6.855},
{"x":5.05,"y":-6.908},{"x":5.15,"y":-6.896},{"x":5.25,"y":-6.874},{"x":5.35,"y":-6.933},{"x":5.45,"y":-6.866},{"x":5.55,"y":-6.929},{"x":5.65,"y":-6.908},{"x":5.75,"y":-6.921},{"x":5.85,"y":-6.890},{"x":5.95,"y":-6.943},
{"x":6.05,"y":-6.898},{"x":6.15,"y":-6.943},{"x":6.25,"y":-6.973},{"x":6.35,"y":-6.929},{"x":6.45,"y":-6.944},{"x":6.55,"y":-6.979},{"x":6.65,"y":-6.939},{"x":6.75,"y":-7.004},{"x":6.85,"y":-6.960},{"x":6.95,"y":-6.940},
{"x":7.05,"y":-6.994},{"x":7.15,"y":-6.983},{"x":7.25,"y":-6.961},{"x":7.35,"y":-7.020},{"x":7.45,"y":-6.953},{"x":7.55,"y":-7.015},{"x":7.65,"y":-6.989},{"x":7.75,"y":-6.998},{"x":7.85,"y":-6.962},{"x":7.95,"y":-7.011},
{"x":8.05,"y":-6.961},{"x":8.15,"y":-6.983},{"x":8.25,"y":-6.992},{"x":8.35,"y":-6.942},{"x":8.45,"y":-6.939},{"x":8.55,"y":-6.954},{"x":8.65,"y":-6.910},{"x":8.75,"y":-6.951},{"x":8.85,"y":-6.903},{"x":8.95,"y":-6.875},
{"x":9.05,"y":-6.906},{"x":9.15,"y":-6.884},{"x":9.25,"y":-6.853},{"x":9.35,"y":-6.887},{"x":9.45,"y":-6.820},{"x":9.55,"y":-6.858},{"x":9.65,"y":-6.828},{"x":9.75,"y":-6.825},{"x":9.85,"y":-6.787},{"x":9.95,"y":-6.816},
{"x":10.05,"y":-6.767},{"x":10.15,"y":-6.791},{"x":10.25,"y":-6.804},{"x":10.35,"y":-6.756},{"x":10.45,"y":-6.756},{"x":10.55,"y":-6.774},{"x":10.65,"y":-6.734},{"x":10.75,"y":-6.778},{"x":10.85,"y":-6.749},{"x":10.95,"y":-6.755},
{"x":11.05,"y":-6.812},{"x":11.15,"y":-6.811},{"x":11.25,"y":-6.801},{"x":11.35,"y":-6.856},{"x":11.45,"y":-6.810},{"x":11.55,"y":-6.867},{"x":11.65,"y":-6.855},{"x":11.75,"y":-6.871},{"x":11.85,"y":-6.850},{"x":11.95,"y":-6.898},
{"x":12.05,"y":-6.864},{"x":12.15,"y":-6.898},{"x":12.25,"y":-6.921},{"x":12.35,"y":-6.883},{"x":12.45,"y":-6.894},{"x":12.55,"y":-6.915},{"x":12.65,"y":-6.871},{"x":12.75,"y":-6.912},{"x":12.85,"y":-6.864},{"x":12.95,"y":-6.836},
{"x":13.05,"y":-6.864},{"x":13.15,"y":-6.845},{"x":13.25,"y":-6.819},{"x":13.35,"y":-6.842},{"x":13.45,"y":-6.789},{"x":13.55,"y":-6.813},{"x":13.65,"y":-6.782},{"x":13.75,"y":-6.773},{"x":13.85,"y":-6.736},{"x":13.95,"y":-6.751},
{"x":14.05,"y":-6.708},{"x":14.15,"y":-6.722},{"x":14.25,"y":-6.726},{"x":14.35,"y":-6.686},{"x":14.45,"y":-6.681},{"x":14.55,"y":-6.690},{"x":14.65,"y":-6.653},{"x":14.75,"y":-6.680},{"x":14.85,"y":-6.640},{"x":14.95,"y":-6.616},
{"x":15.05,"y":-6.638},{"x":15.15,"y":-6.623},{"x":15.25,"y":-6.602},{"x":15.35,"y":-6.628},{"x":15.45,"y":-6.580},{"x":15.55,"y":-6.610},{"x":15.65,"y":-6.589},{"x":15.75,"y":-6.589},{"x":15.85,"y":-6.561},{"x":15.95,"y":-6.585},
{"x":16.05,"y":-6.548},{"x":16.15,"y":-6.564},{"x":16.25,"y":-6.570},{"x":16.35,"y":-6.532},{"x":16.45,"y":-6.529},{"x":16.55,"y":-6.540},{"x":16.65,"y":-6.506},{"x":16.75,"y":-6.534},{"x":16.85,"y":-6.497},{"x":16.95,"y":-6.475},
{"x":17.05,"y":-6.497},{"x":17.15,"y":-6.480},{"x":17.25,"y":-6.457},{"x":17.35,"y":-6.481},{"x":17.45,"y":-6.431},{"x":17.55,"y":-6.460},{"x":17.65,"y":-6.439},{"x":17.75,"y":-6.439},{"x":17.85,"y":-6.411},{"x":17.95,"y":-6.435},
{"x":18.05,"y":-6.400},{"x":18.15,"y":-6.420}
 ],
 "botRed": [
{"x":0.7,"y":-6.787},{"x":0.8,"y":-6.741},{"x":0.9,"y":-6.775},
{"x":1.0,"y":-6.741},{"x":1.1,"y":-6.771},{"x":1.2,"y":-6.725},{"x":1.3,"y":-6.743},{"x":1.4,"y":-6.705},{"x":1.5,"y":-6.743},{"x":1.6,"y":-6.761},{"x":1.7,"y":-6.739},{"x":1.8,"y":-6.789},{"x":1.9,"y":-6.767},
{"x":2.0,"y":-6.793},{"x":2.1,"y":-6.761},{"x":2.2,"y":-6.809},{"x":2.3,"y":-6.797},{"x":2.4,"y":-6.781},{"x":2.5,"y":-6.837},{"x":2.6,"y":-6.798},{"x":2.7,"y":-6.826},{"x":2.8,"y":-6.795},{"x":2.9,"y":-6.843},
{"x":3.0,"y":-6.824},{"x":3.1,"y":-6.860},{"x":3.2,"y":-6.820},{"x":3.3,"y":-6.844},{"x":3.4,"y":-6.812},{"x":3.5,"y":-6.856},{"x":3.6,"y":-6.868},{"x":3.7,"y":-6.840},{"x":3.8,"y":-6.884},{"x":3.9,"y":-6.856},
{"x":4.0,"y":-6.876},{"x":4.1,"y":-6.843},{"x":4.2,"y":-6.890},{"x":4.3,"y":-6.878},{"x":4.4,"y":-6.861},{"x":4.5,"y":-6.916},{"x":4.6,"y":-6.875},{"x":4.7,"y":-6.902},{"x":4.8,"y":-6.870},{"x":4.9,"y":-6.917},
{"x":5.0,"y":-6.896},{"x":5.1,"y":-6.931},{"x":5.2,"y":-6.891},{"x":5.3,"y":-6.914},{"x":5.4,"y":-6.882},{"x":5.5,"y":-6.925},{"x":5.6,"y":-6.937},{"x":5.7,"y":-6.909},{"x":5.8,"y":-6.953},{"x":5.9,"y":-6.925},
{"x":6.0,"y":-6.945},{"x":6.1,"y":-6.914},{"x":6.2,"y":-6.963},{"x":6.3,"y":-6.953},{"x":6.4,"y":-6.938},{"x":6.5,"y":-6.995},{"x":6.6,"y":-6.956},{"x":6.7,"y":-6.986},{"x":6.8,"y":-6.955},{"x":6.9,"y":-7.005},
{"x":7.0,"y":-6.986},{"x":7.1,"y":-7.022},{"x":7.2,"y":-6.982},{"x":7.3,"y":-7.006},{"x":7.4,"y":-6.974},{"x":7.5,"y":-7.018},{"x":7.6,"y":-7.024},{"x":7.7,"y":-6.990},{"x":7.8,"y":-7.028},{"x":7.9,"y":-6.994},
{"x":8.0,"y":-7.008},{"x":8.1,"y":-6.962},{"x":8.2,"y":-6.995},{"x":8.3,"y":-6.969},{"x":8.4,"y":-6.938},{"x":8.5,"y":-6.980},{"x":8.6,"y":-6.928},{"x":8.7,"y":-6.944},{"x":8.8,"y":-6.900},{"x":8.9,"y":-6.936},
{"x":9.0,"y":-6.904},{"x":9.1,"y":-6.926},{"x":9.2,"y":-6.872},{"x":9.3,"y":-6.882},{"x":9.4,"y":-6.836},{"x":9.5,"y":-6.866},{"x":9.6,"y":-6.864},{"x":9.7,"y":-6.822},{"x":9.8,"y":-6.852},{"x":9.9,"y":-6.810},
{"x":10.0,"y":-6.816},{"x":10.1,"y":-6.776},{"x":10.2,"y":-6.817},{"x":10.3,"y":-6.797},{"x":10.4,"y":-6.774},{"x":10.5,"y":-6.822},{"x":10.6,"y":-6.785},{"x":10.7,"y":-6.816},{"x":10.8,"y":-6.787},{"x":10.9,"y":-6.838},
{"x":11.0,"y":-6.821},{"x":11.1,"y":-6.862},{"x":11.2,"y":-6.826},{"x":11.3,"y":-6.855},{"x":11.4,"y":-6.827},{"x":11.5,"y":-6.876},{"x":11.6,"y":-6.891},{"x":11.7,"y":-6.867},{"x":11.8,"y":-6.914},{"x":11.9,"y":-6.890},
{"x":12.0,"y":-6.913},{"x":12.1,"y":-6.878},{"x":12.2,"y":-6.923},{"x":12.3,"y":-6.908},{"x":12.4,"y":-6.889},{"x":12.5,"y":-6.942},{"x":12.6,"y":-6.891},{"x":12.7,"y":-6.907},{"x":12.8,"y":-6.864},{"x":12.9,"y":-6.900},
{"x":13.0,"y":-6.869},{"x":13.1,"y":-6.890},{"x":13.2,"y":-6.836},{"x":13.3,"y":-6.845},{"x":13.4,"y":-6.799},{"x":13.5,"y":-6.828},{"x":13.6,"y":-6.821},{"x":13.7,"y":-6.774},{"x":13.8,"y":-6.799},{"x":13.9,"y":-6.752},
{"x":14.0,"y":-6.753},{"x":14.1,"y":-6.707},{"x":14.2,"y":-6.741},{"x":14.3,"y":-6.715},{"x":14.4,"y":-6.685},{"x":14.5,"y":-6.727},{"x":14.6,"y":-6.674},{"x":14.7,"y":-6.688},{"x":14.8,"y":-6.643},{"x":14.9,"y":-6.677},
{"x":15.0,"y":-6.644},{"x":15.1,"y":-6.670},{"x":15.2,"y":-6.620},{"x":15.3,"y":-6.633},{"x":15.4,"y":-6.591},{"x":15.5,"y":-6.625},{"x":15.6,"y":-6.627},{"x":15.7,"y":-6.588},{"x":15.8,"y":-6.622},{"x":15.9,"y":-6.583},
{"x":16.0,"y":-6.593},{"x":16.1,"y":-6.549},{"x":16.2,"y":-6.585},{"x":16.3,"y":-6.561},{"x":16.4,"y":-6.533},{"x":16.5,"y":-6.577},{"x":16.6,"y":-6.526},{"x":16.7,"y":-6.543},{"x":16.8,"y":-6.500},{"x":16.9,"y":-6.537},
{"x":17.0,"y":-6.506},{"x":17.1,"y":-6.530},{"x":17.2,"y":-6.478},{"x":17.3,"y":-6.490},{"x":17.4,"y":-6.446},{"x":17.5,"y":-6.478},{"x":17.6,"y":-6.480},{"x":17.7,"y":-6.443},{"x":17.8,"y":-6.477},{"x":17.9,"y":-6.440},
{"x":18.0,"y":-6.450},{"x":18.1,"y":-6.410},{"x":18.2,"y":-6.450},{"x":18.3,"y":-6.429},{"x":18.4,"y":-6.405},
{"x":1.72,"y":-6.687},{"x":0.64,"y":-6.821},
{"x":0.75,"y":-6.754},{"x":0.85,"y":-6.788},{"x":0.95,"y":-6.746},
{"x":1.05,"y":-6.720},{"x":1.15,"y":-6.758},{"x":1.25,"y":-6.744},{"x":1.35,"y":-6.706},{"x":1.45,"y":-6.756},{"x":1.55,"y":-6.732},{"x":1.65,"y":-6.782},{"x":1.75,"y":-6.740},{"x":1.85,"y":-6.770},{"x":1.95,"y":-6.792},
{"x":2.05,"y":-6.759},{"x":2.15,"y":-6.815},{"x":2.25,"y":-6.783},{"x":2.35,"y":-6.807},{"x":2.45,"y":-6.799},{"x":2.55,"y":-6.828},{"x":2.65,"y":-6.788},{"x":2.75,"y":-6.801},{"x":2.85,"y":-6.849},{"x":2.95,"y":-6.822},
{"x":3.05,"y":-6.806},{"x":3.15,"y":-6.850},{"x":3.25,"y":-6.842},{"x":3.35,"y":-6.810},{"x":3.45,"y":-6.866},{"x":3.55,"y":-6.842},{"x":3.65,"y":-6.886},{"x":3.75,"y":-6.838},{"x":3.85,"y":-6.862},{"x":3.95,"y":-6.878},
{"x":4.05,"y":-6.842},{"x":4.15,"y":-6.897},{"x":4.25,"y":-6.864},{"x":4.35,"y":-6.888},{"x":4.45,"y":-6.879},{"x":4.55,"y":-6.906},{"x":4.65,"y":-6.865},{"x":4.75,"y":-6.876},{"x":4.85,"y":-6.924},{"x":4.95,"y":-6.895},
{"x":5.05,"y":-6.878},{"x":5.15,"y":-6.921},{"x":5.25,"y":-6.913},{"x":5.35,"y":-6.880},{"x":5.45,"y":-6.936},{"x":5.55,"y":-6.911},{"x":5.65,"y":-6.955},{"x":5.75,"y":-6.907},{"x":5.85,"y":-6.931},{"x":5.95,"y":-6.947},
{"x":6.05,"y":-6.912},{"x":6.15,"y":-6.969},{"x":6.25,"y":-6.938},{"x":6.35,"y":-6.964},{"x":6.45,"y":-6.957},{"x":6.55,"y":-6.986},{"x":6.65,"y":-6.947},{"x":6.75,"y":-6.961},{"x":6.85,"y":-7.010},{"x":6.95,"y":-6.984},
{"x":7.05,"y":-6.968},{"x":7.15,"y":-7.012},{"x":7.25,"y":-7.004},{"x":7.35,"y":-6.972},{"x":7.45,"y":-7.028},{"x":7.55,"y":-7.001},{"x":7.65,"y":-7.039},{"x":7.75,"y":-6.985},{"x":7.85,"y":-7.003},{"x":7.95,"y":-7.013},
{"x":8.05,"y":-6.967},{"x":8.15,"y":-7.009},{"x":8.25,"y":-6.962},{"x":8.35,"y":-6.972},{"x":8.45,"y":-6.949},{"x":8.55,"y":-6.964},{"x":8.65,"y":-6.912},{"x":8.75,"y":-6.912},{"x":8.85,"y":-6.948},{"x":8.95,"y":-6.908},
{"x":9.05,"y":-6.879},{"x":9.15,"y":-6.909},{"x":9.25,"y":-6.887},{"x":9.35,"y":-6.841},{"x":9.45,"y":-6.883},{"x":9.55,"y":-6.845},{"x":9.65,"y":-6.875},{"x":9.75,"y":-6.813},{"x":9.85,"y":-6.823},{"x":9.95,"y":-6.825},
{"x":10.05,"y":-6.778},{"x":10.15,"y":-6.827},{"x":10.25,"y":-6.787},{"x":10.35,"y":-6.804},{"x":10.45,"y":-6.788},{"x":10.55,"y":-6.814},{"x":10.65,"y":-6.777},{"x":10.75,"y":-6.792},{"x":10.85,"y":-6.843},{"x":10.95,"y":-6.818},
{"x":11.05,"y":-6.806},{"x":11.15,"y":-6.854},{"x":11.25,"y":-6.851},{"x":11.35,"y":-6.823},{"x":11.45,"y":-6.884},{"x":11.55,"y":-6.864},{"x":11.65,"y":-6.911},{"x":11.75,"y":-6.867},{"x":11.85,"y":-6.894},{"x":11.95,"y":-6.914},
{"x":12.05,"y":-6.878},{"x":12.15,"y":-6.931},{"x":12.25,"y":-6.896},{"x":12.35,"y":-6.917},{"x":12.45,"y":-6.906},{"x":12.55,"y":-6.927},{"x":12.65,"y":-6.875},{"x":12.75,"y":-6.876},{"x":12.85,"y":-6.912},{"x":12.95,"y":-6.873},
{"x":13.05,"y":-6.844},{"x":13.15,"y":-6.873},{"x":13.25,"y":-6.851},{"x":13.35,"y":-6.804},{"x":13.45,"y":-6.846},{"x":13.55,"y":-6.805},{"x":13.65,"y":-6.830},{"x":13.75,"y":-6.763},{"x":13.85,"y":-6.768},{"x":13.95,"y":-6.765},
{"x":14.05,"y":-6.712},{"x":14.15,"y":-6.754},{"x":14.25,"y":-6.708},{"x":14.35,"y":-6.718},{"x":14.45,"y":-6.696},{"x":14.55,"y":-6.711},{"x":14.65,"y":-6.657},{"x":14.75,"y":-6.656},{"x":14.85,"y":-6.690},{"x":14.95,"y":-6.649},
{"x":15.05,"y":-6.621},{"x":15.15,"y":-6.655},{"x":15.25,"y":-6.637},{"x":15.35,"y":-6.594},{"x":15.45,"y":-6.640},{"x":15.55,"y":-6.606},{"x":15.65,"y":-6.640},{"x":15.75,"y":-6.581},{"x":15.85,"y":-6.595},{"x":15.95,"y":-6.600},
{"x":16.05,"y":-6.553},{"x":16.15,"y":-6.597},{"x":16.25,"y":-6.553},{"x":16.35,"y":-6.565},{"x":16.45,"y":-6.545},{"x":16.55,"y":-6.562},{"x":16.65,"y":-6.511},{"x":16.75,"y":-6.512},{"x":16.85,"y":-6.549},{"x":16.95,"y":-6.510},
{"x":17.05,"y":-6.482},{"x":17.15,"y":-6.514},{"x":17.25,"y":-6.494},{"x":17.35,"y":-6.450},{"x":17.45,"y":-6.494},{"x":17.55,"y":-6.459},{"x":17.65,"y":-6.494},{"x":17.75,"y":-6.436},{"x":17.85,"y":-6.451},{"x":17.95,"y":-6.457},
{"x":18.05,"y":-6.412},{"x":18.15,"y":-6.460},{"x":18.25,"y":-6.420},{"x":18.35,"y":-6.435}
 ],
 "zero": [{"x": 0}]
},
"vconcat": [
 {
  "width": 1110, "height": 295,
  "layer": [
   {"data": {"name": "topBlack"},
    "mark": {"type": "point", "shape": "M-1,0H1M0,-1V1", "size": 100, "filled": false, "stroke": "#000000", "strokeWidth": 1.3, "opacity": 1},
    "encoding": {
     "x": {"field": "x", "type": "quantitative", "scale": {"domain": [-0.93, 19.33], "nice": false, "zero": false},
       "axis": {"values": [0, 2, 4, 6, 8, 10, 12, 14, 16, 18], "labelAngle": 270, "labelAlign": "left", "labelBaseline": "top", "labelPadding": -3, "labelOffset": 3}},
     "y": {"field": "y", "type": "quantitative", "scale": {"domain": [-7.113, -6.074], "nice": false, "zero": false},
       "axis": {"values": [-7, -6.5], "labelAlign": "left", "labelBaseline": "top", "labelPadding": -4, "labelOffset": 2, "labelExpr": "datum.value < -6.75 ? '-7.0' : '-6.5'"}}
    }},
   {"data": {"name": "topRed"},
    "mark": {"type": "point", "shape": "M-1,0H1M0,-1V1", "size": 100, "filled": false, "stroke": "#FF0000", "strokeWidth": 1.3, "opacity": 1},
    "encoding": {
     "x": {"field": "x", "type": "quantitative"},
     "y": {"field": "y", "type": "quantitative"}
    }},
   {"data": {"name": "zero"},
    "mark": {"type": "rule", "color": "#000000", "strokeWidth": 2},
    "encoding": {"x": {"field": "x", "type": "quantitative"}}}
  ]
 },
 {
  "width": 1110, "height": 290,
  "layer": [
   {"data": {"name": "botRed"},
    "mark": {"type": "point", "shape": "M-1,0H1M0,-1V1", "size": 100, "filled": false, "stroke": "#FF0000", "strokeWidth": 1.3, "opacity": 1},
    "encoding": {
     "x": {"field": "x", "type": "quantitative", "scale": {"domain": [-0.93, 19.33], "nice": false, "zero": false},
       "axis": {"values": [0, 2, 4, 6, 8, 10, 12, 14, 16, 18], "labelAngle": 270, "labelAlign": "left", "labelBaseline": "top", "labelPadding": -3, "labelOffset": 3}},
     "y": {"field": "y", "type": "quantitative", "scale": {"domain": [-7.088, -6.337], "nice": false, "zero": false},
       "axis": {"values": [-7, -6.5], "labelAlign": "left", "labelBaseline": "top", "labelPadding": -4, "labelOffset": 2, "labelExpr": "datum.value < -6.75 ? '-7.0' : '-6.5'"}}
    }},
   {"data": {"name": "botBlack"},
    "mark": {"type": "point", "shape": "M-1,0H1M0,-1V1", "size": 100, "filled": false, "stroke": "#000000", "strokeWidth": 1.3, "opacity": 1},
    "encoding": {
     "x": {"field": "x", "type": "quantitative"},
     "y": {"field": "y", "type": "quantitative"}
    }},
   {"data": {"name": "zero"},
    "mark": {"type": "rule", "color": "#000000", "strokeWidth": 2},
    "encoding": {"x": {"field": "x", "type": "quantitative"}}}
  ]
 }
]
}
